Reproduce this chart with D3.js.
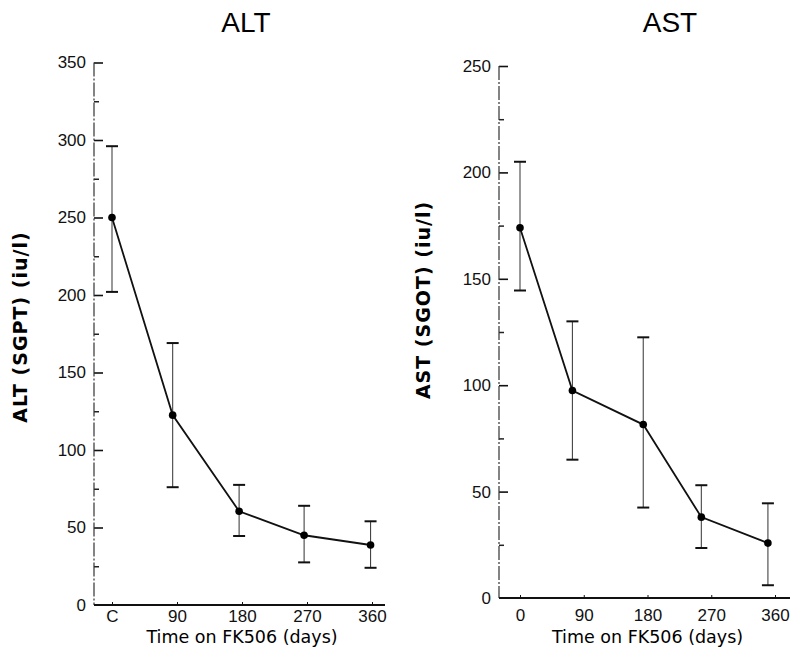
<!DOCTYPE html>
<html><head><meta charset="utf-8">
<script src="https://cdn.jsdelivr.net/npm/d3@7"></script>
<style>body{margin:0;background:#fff}svg{display:block}</style>
</head><body>
<svg id="c" width="800" height="657"></svg>
<script>
// ---- data ----
const xTicks = [0, 90, 180, 270, 360];
const altXLabels = ["C", "90", "180", "270", "360"];
const astXLabels = ["0", "90", "180", "270", "360"];
const altYTicks = [0, 50, 100, 150, 200, 250, 300, 350];
const astYTicks = [0, 50, 100, 150, 200, 250];
const altDays  = [0, 84, 176, 266, 358];
const altMean  = [250, 122.5, 60.5, 45, 38.7];
const altUpper = [296, 169, 77.5, 64, 54];
const altLower = [202, 76, 44.5, 27.5, 24];
const astDays  = [0, 74, 174, 256, 350];
const astMean  = [174, 97.5, 81.5, 38, 25.8];
const astUpper = [205, 130, 122.5, 53, 44.5];
const astLower = [144.5, 65, 42.5, 23.5, 6];

const svg = d3.select("#c");
const FONT = "'Liberation Sans', Arial, sans-serif";

function panel(o) {
  const g = svg.append("g");
  const x = d3.scaleLinear().domain([0, 360]).range(o.xr);
  const y = d3.scaleLinear().domain([0, o.ymax]).range(o.yr);

  // minor y ticks
  const minor = d3.range(25, o.ymax, 50);
  g.append("g").attr("transform", `translate(${o.ax},0)`)
    .call(d3.axisLeft(y).tickValues(minor).tickSize(-5).tickFormat(""))
    .call(s => s.select(".domain").remove())
    .selectAll("line").attr("stroke", "#222").attr("stroke-width", 1.5);

  // major y ticks
  const ya = g.append("g").attr("transform", `translate(${o.ax},0)`)
    .call(d3.axisLeft(y).tickValues(o.yTicks).tickSize(-9).tickPadding(8).tickFormat(d3.format("d")));
  ya.select(".domain").remove();
  ya.selectAll(".tick line").attr("stroke", "#111").attr("stroke-width", 1.6)
    .filter(d => d === 0).remove();
  ya.selectAll("text").attr("font-family", FONT).attr("font-size", 17).attr("fill", "#111");

  // y axis line
  g.append("line").attr("x1", o.ax).attr("x2", o.ax)
    .attr("y1", y(o.ymax)).attr("y2", y(0))
    .attr("stroke", "#333").attr("stroke-width", 1.2).attr("stroke-dasharray", "14,2,2,2");

  // x axis
  const xa = g.append("g").attr("transform", `translate(0,${y(0)})`)
    .call(d3.axisBottom(x).tickValues(xTicks).tickSize(-3).tickPadding(o.xPad)
      .tickFormat((d, i) => o.xLabels[i]));
  xa.select(".domain").remove();
  xa.selectAll(".tick line").attr("stroke", "#111").attr("stroke-width", 1);
  xa.selectAll("text").attr("font-family", FONT).attr("font-size", 17).attr("fill", "#111");
  g.append("line").attr("x1", o.ax).attr("x2", o.xEnd)
    .attr("y1", y(0)).attr("y2", y(0))
    .attr("stroke", "#111").attr("stroke-width", 2);

  // error bars
  const eb = g.append("g");
  o.days.forEach((d, i) => {
    const cx = x(d);
    eb.append("line").attr("x1", cx).attr("x2", cx)
      .attr("y1", y(o.upper[i])).attr("y2", y(o.lower[i]))
      .attr("stroke", "#444").attr("stroke-width", 1.1);
    [o.upper[i], o.lower[i]].forEach(v => {
      eb.append("line").attr("x1", cx - 6).attr("x2", cx + 6)
        .attr("y1", y(v)).attr("y2", y(v))
        .attr("stroke", "#111").attr("stroke-width", 2);
    });
  });

  // mean line
  const pts = o.days.map((d, i) => [d, o.mean[i]]);
  g.append("path").datum(pts)
    .attr("d", d3.line().x(p => x(p[0])).y(p => y(p[1])))
    .attr("fill", "none").attr("stroke", "#111").attr("stroke-width", 1.8);
  g.selectAll(null).data(pts).enter().append("circle")
    .attr("cx", p => x(p[0])).attr("cy", p => y(p[1])).attr("r", 3.8).attr("fill", "#000");

  // titles
  g.append("text").attr("x", o.titleX).attr("y", 32).attr("text-anchor", "middle")
    .attr("font-family", FONT).attr("font-size", 28).attr("fill", "#000").text(o.title);
  g.append("text").attr("x", (o.xr[0] + o.xr[1]) / 2).attr("y", 643).attr("text-anchor", "middle")
    .attr("font-family", "'DejaVu Sans', sans-serif").attr("font-size", 17.5).attr("fill", "#000")
    .text("Time on FK506 (days)");
  g.append("text").attr("transform", `translate(${o.ylx},${o.yly}) rotate(-90)`)
    .attr("text-anchor", "middle").attr("font-family", "'DejaVu Sans', sans-serif")
    .attr("font-weight", "bold").attr("font-size", 19).attr("letter-spacing", 1)
    .attr("fill", "#000").text(o.ylabel);
}

panel({ xr: [112, 372], yr: [605, 62.5], ymax: 350, ax: 94, xEnd: 385, xPad: 5,
  yTicks: altYTicks, xLabels: altXLabels, days: altDays, mean: altMean,
  upper: altUpper, lower: altLower, title: "ALT", titleX: 246,
  ylabel: "ALT (SGPT) (iu/l)", ylx: 27, yly: 327 });
panel({ xr: [520, 775], yr: [598, 66], ymax: 250, ax: 499, xEnd: 790, xPad: 11,
  yTicks: astYTicks, xLabels: astXLabels, days: astDays, mean: astMean,
  upper: astUpper, lower: astLower, title: "AST", titleX: 670,
  ylabel: "AST (SGOT) (iu/l)", ylx: 430, yly: 300 });
</script>
</body></html>
